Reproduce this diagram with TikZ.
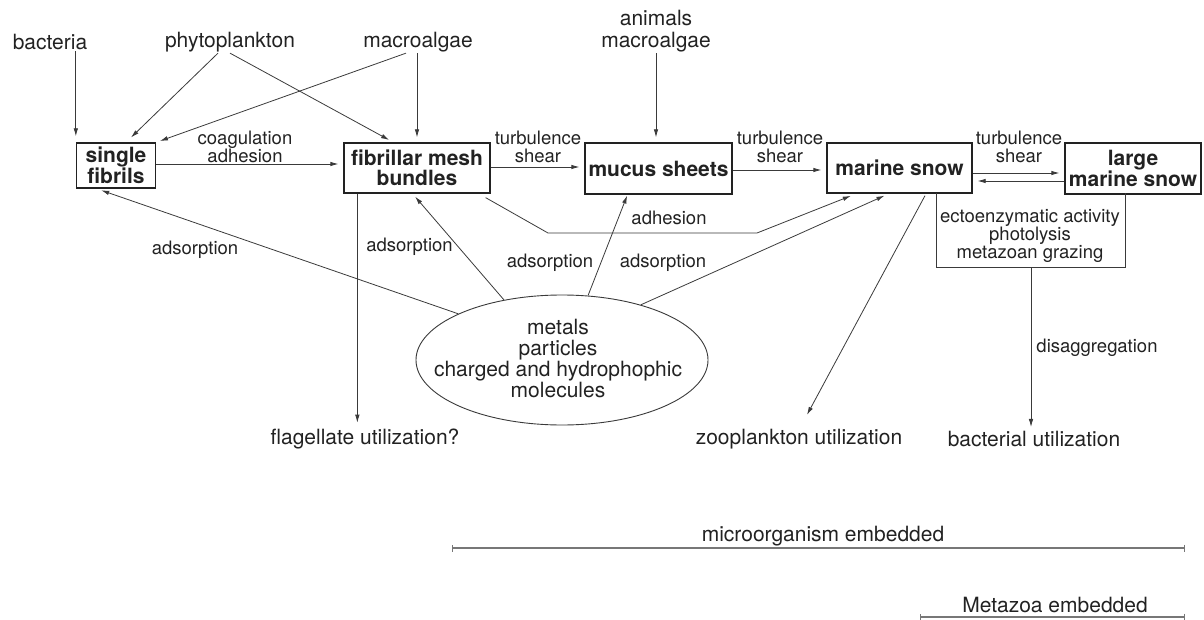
\documentclass[tikz,border=0pt]{standalone}
\usepackage{fontspec}
\setmainfont{TeX Gyre Heros}
\usetikzlibrary{arrows.meta,calc,shapes.geometric}
\definecolor{ink}{HTML}{222222}
\definecolor{lcol}{HTML}{3A3A3A}
\definecolor{barcol}{HTML}{777777}
\begin{document}
\begin{tikzpicture}[x=1pt,y=-1pt,
  big/.style={font=\fontsize{21}{21}\selectfont, text=ink, inner sep=1pt, align=center},
  small/.style={font=\fontsize{18.5}{18}\selectfont, text=ink, inner sep=1pt, align=center},
  box/.style={draw=ink, line width=1.3pt, rectangle, inner sep=0pt, font=\fontsize{21}{20.5}\selectfont\bfseries, text=ink, align=center},
  arr/.style={draw=lcol, line width=0.8pt, -{Latex[length=8pt,width=4.5pt]}},
  ln/.style={draw=lcol, line width=0.8pt},
  scalebar/.style={draw=barcol, line width=1.1pt, {Bar[width=7pt]}-{Bar[width=7pt]}}
]
\useasboundingbox (0,0) rectangle (1204,620);

% sources
\node[big] (bac) at (50,42) {bacteria};
\node[big] (phy) at (230,42) {phytoplankton};
\node[big] (mac) at (418,42) {macroalgae};
\node[big, font=\fontsize{21}{22}\selectfont] (ani) at (656,31) {animals\\macroalgae};

% main boxes
\node[box, minimum width=79pt, minimum height=45pt] (sf) at (116,165.5) {single\\fibrils};
\node[box, minimum width=146pt, minimum height=50pt] (fmb) at (417,168) {fibrillar mesh\\bundles};
\node[box, minimum width=147pt, minimum height=51pt] (ms) at (658.5,168.5) {mucus sheets};
\node[box, minimum width=145pt, minimum height=50pt] (mar) at (899.5,168) {marine snow};
\node[box, minimum width=136pt, minimum height=51pt] (lms) at (1133,168.5) {large\\marine snow};

% edge labels
\node[small] (coag) at (245,147) {coagulation\\adhesion};
\node[small] (t1) at (538,147) {turbulence\\shear};
\node[small] (t2) at (780,147) {turbulence\\shear};
\node[small] (t3) at (1019,147) {turbulence\\shear};
\node[small] (a1) at (195,250) {adsorption};
\node[small] (a2) at (409.5,247) {adsorption};
\node[small] (a3) at (550,263) {adsorption};
\node[small] (a4) at (663,263) {adsorption};
\node[small] (adh) at (669,218) {adhesion};
\node[small] (dis) at (1097,348) {disaggregation};
\node[small] (ecto) at (1030,236) {ectoenzymatic activity\\photolysis\\metazoan grazing};

% ectoenzymatic frame (open at top)
\node[minimum width=188pt, minimum height=74pt, inner sep=0pt] (ectof) at (1031,230) {};
\draw[ln, line width=1pt] (ectof.north west) -- (ectof.south west) -- (ectof.south east) -- (ectof.north east);

% ellipse
\node[draw=lcol, line width=0.9pt, ellipse, minimum width=292pt, minimum height=130pt, inner sep=0pt] (ell) at (562,360) {};
\node[big] (ellt) at (558,359) {metals\\particles\\charged and hydrophophic\\molecules};

% sinks
\node[big] (flag) at (365,439) {flagellate utilization?};
\node[big] (zoo) at (799,439) {zooplankton utilization};
\node[big] (bu) at (1034,439) {bacterial utilization};

% scale bars
\node[big] (mic) at (823,536) {microorganism embedded};
\node[big] (met) at (1055,605) {Metazoa embedded};
\coordinate (micL) at (452,548);
\coordinate (micR) at (1185,548);
\coordinate (metL) at (920,617);
\coordinate (metR) at (1185,617);
\draw[scalebar] (micL) -- (micR);
\draw[scalebar] (metL) -- (metR);

% source arrows
\draw[arr, shorten >=6pt] (bac.south -| sf.north west) -- (sf.north west);
\draw[arr, shorten >=7pt] ($(phy.south)+(-12,0)$) -- ($(sf.north)+(10,0)$);
\draw[arr, shorten >=5pt] (phy.south) -- ($(fmb.north)+(-23.5,0)$);
\draw[arr, shorten >=4pt] ($(mac.south)+(-12,0)$) -- (sf.north east);
\draw[arr, shorten >=5pt] (mac.south -| fmb.north) -- (fmb.north);
\draw[arr, shorten >=5pt] (ani.south) -- (ani.south |- ms.north);

% main chain
\draw[arr, shorten >=5pt] ($(sf.east)+(0,-1.5)$) -- ($(sf.east -| fmb.west)+(0,-1.5)$);
\draw[arr, shorten >=5pt] ($(fmb.east)+(0,-1)$) -- ($(fmb.east -| ms.west)+(0,-1)$);
\draw[arr, shorten >=5pt] ($(ms.east)+(0,1.5)$) -- ($(ms.east -| mar.west)+(0,1.5)$);
\draw[arr, shorten >=5pt] ($(mar.east)+(0,5)$) -- ($(mar.east -| lms.west)+(0,5)$);
\draw[arr, shorten >=5pt] ($(lms.west)+(0,12.5)$) -- ($(lms.west -| mar.east)+(0,12.5)$);

% flagellate
\coordinate (fl0) at ($(fmb.south west)+(14,0)$);
\draw[arr, shorten >=5pt] (fl0) -- (fl0 |- flag.north);

% adsorption arrows from ellipse
\draw[arr, shorten >=5pt] (ell.156) -- ($(sf.south)+(-19.5,0)$);
\draw[arr, shorten >=4pt] (ell.134) -- ($(fmb.south)+(-4.5,0)$);
\draw[arr, shorten >=1pt] (ell.68) -- ($(ms.south)+(-31,0)$);
\draw[arr, shorten >=5pt] (ell.35) -- ($(mar.south)+(-10.5,0)$);

% adhesion polyline
\coordinate (q1) at (548,233);
\coordinate (q2) at (757,233);
\draw[arr, shorten >=6pt] ($(fmb.south east)+(-5,4)$) -- (q1) -- (q2) -- ($(mar.south west)+(30,0)$);

% zooplankton
\draw[arr] ($(mar.south)+(25.5,2)$) -- ($(zoo.north)+(8,-13)$);

% disaggregation
\draw[arr, shorten >=3pt] (ectof.south) -- (ectof.south |- bu.north);
\end{tikzpicture}
\end{document}
